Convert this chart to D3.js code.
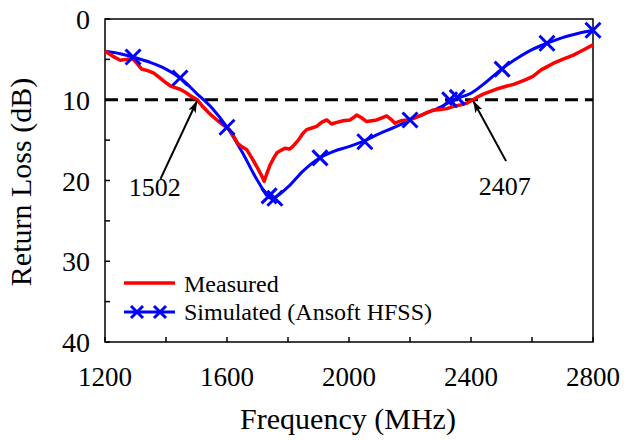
<!DOCTYPE html>
<html><head>
<meta charset="utf-8">
<script src="https://d3js.org/d3.v7.min.js"></script>
<style>
  body { margin: 0; background: #fff; }
  svg text { font-family: "Liberation Serif", "Times New Roman", serif; fill: #000; }
</style>
</head>
<body>
<svg id="chart" width="624" height="440"></svg>
<script>
// ---- data ----
const measFreq = [1200,1225,1250,1270,1290,1305,1320,1340,1360,1380,1400,1415,1430,1446,1465,1480,1502,1522,1540,1554,1570,1587,1605,1620,1635,1648,1665,1680,1698,1712,1722,1730,1741,1752,1763,1775,1790,1805,1815,1834,1848,1861,1878,1894,1910,1927,1943,1960,1981,2003,2015,2025,2040,2058,2075,2091,2110,2123,2140,2151,2170,2190,2210,2233,2255,2276,2300,2321,2345,2370,2387,2407,2420,2440,2462,2490,2518,2540,2561,2580,2603,2630,2650,2669,2700,2734,2765,2800];
const measLoss = [4.0,4.6,5.1,5.0,4.9,5.5,6.2,6.4,6.7,7.3,7.9,8.3,8.5,8.7,9.1,9.5,10.0,10.9,11.6,12.1,12.6,13.1,13.6,14.4,15.4,15.8,16.2,17.1,18.3,19.3,20.1,19.2,18.1,17.3,16.6,16.3,16.0,16.1,15.8,15.0,14.2,13.7,13.5,13.3,12.8,12.5,13.0,12.8,12.6,12.5,12.2,11.9,12.2,12.7,12.6,12.5,12.2,12.0,12.5,12.9,12.6,12.5,12.3,12.0,11.6,11.3,11.2,11.1,10.8,10.6,10.4,10.0,9.7,9.3,9.0,8.6,8.3,8.1,7.8,7.5,7.1,6.3,5.9,5.5,5.0,4.5,3.9,3.2];

const simFreq = [1200,1250,1300,1350,1400,1450,1500,1550,1600,1650,1700,1745,1800,1850,1900,1950,2000,2050,2100,2150,2200,2250,2300,2350,2400,2450,2500,2550,2600,2650,2700,2750,2800];
const simLoss = [4.0,4.3,4.8,5.4,6.2,7.4,9.2,11.0,13.4,16.5,20.0,22.2,20.8,18.8,17.3,16.4,15.8,15.1,14.2,13.4,12.5,11.7,10.9,9.9,9.2,7.8,6.2,4.9,3.8,3.0,2.3,1.8,1.4];

const markFreq = [1292,1446,1600,1738,1757,1905,2052,2200,2330,2355,2502,2649,2800];
const markLoss = [4.7,7.3,13.4,21.9,22.2,17.2,15.2,12.5,10.0,9.7,6.2,3.0,1.4];

const xTicks = [1200,1400,1600,1800,2000,2200,2400,2600,2800];
const xLabels = [1200,1600,2000,2400,2800];
const yTicks = [0,5,10,15,20,25,30,35,40];
const yLabels = [0,10,20,30,40];

const threshold = 10;
const notes = [{f: 1502, label: "1502", tail: [1382, 19.8], text: [1363, 20.9]},
               {f: 2407, label: "2407", tail: [2515, 17.6], text: [2511, 20.8]}];

// ---- layout ----
const svg = d3.select("#chart");
const x = d3.scaleLinear().domain([1200, 2800]).range([105, 593]);
const y = d3.scaleLinear().domain([0, 40]).range([19, 342]);

svg.append("defs").append("marker")
  .attr("id", "arrow").attr("viewBox", "0 0 12 8")
  .attr("refX", 12).attr("refY", 4)
  .attr("markerWidth", 12).attr("markerHeight", 8)
  .attr("markerUnits", "userSpaceOnUse")
  .attr("orient", "auto")
  .append("path").attr("d", "M0,0 L12,4 L0,8 L3,4 Z").attr("fill", "#000");

// frame
svg.append("rect")
  .attr("x", x(1200)).attr("y", y(0))
  .attr("width", x(2800) - x(1200)).attr("height", y(40) - y(0))
  .attr("fill", "none").attr("stroke", "#000").attr("stroke-width", 1.5);

// inward ticks
svg.append("g").selectAll("line").data(xTicks).join("line")
  .attr("x1", d => x(d)).attr("x2", d => x(d))
  .attr("y1", y(40)).attr("y2", y(40) - 5)
  .attr("stroke", "#000").attr("stroke-width", 1.5);
svg.append("g").selectAll("line").data(yTicks).join("line")
  .attr("x1", x(1200)).attr("x2", x(1200) + 5)
  .attr("y1", d => y(d)).attr("y2", d => y(d))
  .attr("stroke", "#000").attr("stroke-width", 1.5);

// tick labels
svg.append("g").selectAll("text").data(xLabels).join("text")
  .attr("x", d => x(d)).attr("y", 386)
  .attr("text-anchor", "middle").attr("font-size", 27)
  .text(d => d);
svg.append("g").selectAll("text").data(yLabels).join("text")
  .attr("x", 90).attr("y", d => y(d) + 10)
  .attr("text-anchor", "end").attr("font-size", 28)
  .text(d => d);

// axis titles
svg.append("text").attr("x", 348).attr("y", 429)
  .attr("text-anchor", "middle").attr("font-size", 30)
  .text("Frequency (MHz)");
svg.append("text")
  .attr("transform", "translate(31,182) rotate(-90)")
  .attr("text-anchor", "middle").attr("font-size", 30)
  .text("Return Loss (dB)");

// threshold line
svg.append("line")
  .attr("x1", x(1200)).attr("x2", x(2800))
  .attr("y1", y(threshold)).attr("y2", y(threshold))
  .attr("stroke", "#000").attr("stroke-width", 3)
  .attr("stroke-dasharray", "13,7");

// curves
const simLine = d3.line().x(d => x(d[0])).y(d => y(d[1])).curve(d3.curveMonotoneX);
const measLine = d3.line().x(d => x(d[0])).y(d => y(d[1])).curve(d3.curveLinear);

svg.append("path")
  .datum(simFreq.map((f, i) => [f, simLoss[i]]))
  .attr("d", simLine)
  .attr("fill", "none").attr("stroke", "#0000ff").attr("stroke-width", 3);

svg.append("path")
  .datum(measFreq.map((f, i) => [f, measLoss[i]]))
  .attr("d", measLine)
  .attr("fill", "none").attr("stroke", "#ff0000").attr("stroke-width", 3.5)
  .attr("stroke-linejoin", "round");

// X markers
function cross(g, cx, cy, h) {
  g.append("path")
    .attr("d", `M${cx - h},${cy - h}L${cx + h},${cy + h}M${cx - h},${cy + h}L${cx + h},${cy - h}`)
    .attr("stroke", "#0000ff").attr("stroke-width", 3).attr("fill", "none");
}
const markG = svg.append("g");
markFreq.forEach((f, i) => cross(markG, x(f), y(markLoss[i]), 7.5));

// annotations
notes.forEach(n => {
  svg.append("line")
    .attr("x1", x(n.tail[0])).attr("y1", y(n.tail[1]))
    .attr("x2", x(n.f)).attr("y2", y(threshold) + 1)
    .attr("stroke", "#000").attr("stroke-width", 2)
    .attr("marker-end", "url(#arrow)");
  svg.append("text")
    .attr("x", x(n.text[0])).attr("y", y(n.text[1]) + 8)
    .attr("text-anchor", "middle").attr("font-size", 26)
    .text(n.label);
});

// legend
const leg = svg.append("g");
leg.append("line").attr("x1", 124).attr("x2", 175).attr("y1", 283).attr("y2", 283)
  .attr("stroke", "#ff0000").attr("stroke-width", 3.5);
leg.append("text").attr("x", 184).attr("y", 292).attr("font-size", 24).text("Measured");
leg.append("line").attr("x1", 124).attr("x2", 175).attr("y1", 312).attr("y2", 312)
  .attr("stroke", "#0000ff").attr("stroke-width", 3);
cross(leg, 137, 312, 6);
cross(leg, 160, 312, 6);
leg.append("text").attr("x", 184).attr("y", 320).attr("font-size", 24).text("Simulated (Ansoft HFSS)");
</script>
</body></html>
